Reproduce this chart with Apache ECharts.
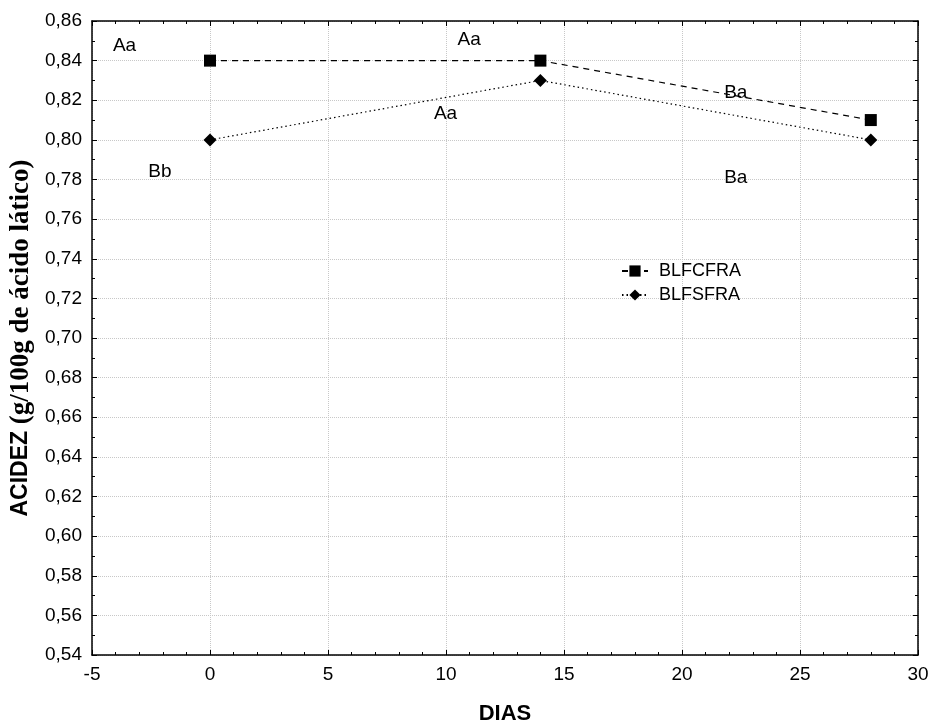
<!DOCTYPE html>
<html><head><meta charset="utf-8">
<script src="https://cdn.jsdelivr.net/npm/echarts@6/dist/echarts.min.js"></script>
<style>html,body{margin:0;padding:0;background:#fff}#c{width:930px;height:724px}</style>
</head><body><div id="c"></div>
<script>
const dias = [0, 14, 28];
const blfcfra = [0.84, 0.84, 0.81];
const blfsfra = [0.80, 0.83, 0.80];
const annotText = ['Aa', 'Bb', 'Aa', 'Aa', 'Ba', 'Ba'];
const annotX = [-3.6, -2.1, 11.0, 10.0, 22.3, 22.3];
const annotY = [0.8474, 0.7838, 0.8505, 0.8131, 0.8237, 0.7808];

const chart = echarts.init(document.getElementById('c'));
const fmtY = v => v.toFixed(2).replace('.', ',');
const font = 'Liberation Sans, Arial, sans-serif';
chart.setOption({
  animation:false,
  backgroundColor:'#fff',
  grid:{left:92, right:12, top:21, bottom:69, outerBoundsMode:'none', containLabel:false},
  legend:{
    orient:'vertical', left:616, top:257, itemGap:6, itemWidth:26, itemHeight:14,
    textStyle:{fontFamily:font, fontSize:18, color:'#000', padding:[0,0,0,6]},
    data:['BLFCFRA','BLFSFRA']
  },
  xAxis:[{
    type:'value', min:-5, max:30, interval:5,
    name:'DIAS', nameLocation:'middle', nameGap:48,
    nameTextStyle:{fontFamily:font, fontSize:22, fontWeight:'bold', color:'#000'},
    axisLine:{onZero:false, lineStyle:{color:'#000', width:1.5}},
    axisTick:{inside:true, length:5, lineStyle:{color:'#000'}},
    minorTick:{show:true, splitNumber:5, length:3, lineStyle:{color:'#000'}},
    axisLabel:{fontFamily:font, fontSize:19, color:'#000', margin:10},
    splitLine:{show:true, lineStyle:{color:'#c8c8c8', type:'dotted'}}
  },{
    type:'value', min:-5, max:30, interval:5, position:'top',
    axisLine:{onZero:false, lineStyle:{color:'#000', width:1.5}},
    axisTick:{inside:true, length:5, lineStyle:{color:'#000'}},
    minorTick:{show:true, splitNumber:5, length:3, lineStyle:{color:'#000'}},
    axisLabel:{show:false}, splitLine:{show:false}
  }],
  yAxis:[{
    type:'value', min:0.54, max:0.86, interval:0.02,
    name:'{a|ACIDEZ}{b| (g/100g de ácido lático)}',
    nameLocation:'middle', nameGap:56, nameRotate:90,
    nameTextStyle:{rich:{
      a:{fontFamily:font, fontSize:23, fontWeight:'bold', color:'#000'},
      b:{fontFamily:'Liberation Serif, Times New Roman, serif', fontSize:27, fontWeight:'bold', color:'#000'}
    }},
    axisLine:{onZero:false, lineStyle:{color:'#000', width:1.5}},
    axisTick:{inside:true, length:5, lineStyle:{color:'#000'}},
    minorTick:{show:true, splitNumber:2, length:3, lineStyle:{color:'#000'}},
    axisLabel:{fontFamily:font, fontSize:19, color:'#000', margin:10, formatter:fmtY},
    splitLine:{show:true, lineStyle:{color:'#c8c8c8', type:'dotted'}}
  },{
    type:'value', min:0.54, max:0.86, interval:0.02, position:'right',
    axisLine:{onZero:false, lineStyle:{color:'#000', width:1.5}},
    axisTick:{inside:true, length:5, lineStyle:{color:'#000'}},
    minorTick:{show:true, splitNumber:2, length:3, lineStyle:{color:'#000'}},
    axisLabel:{show:false}, splitLine:{show:false}
  }],
  series:[{
    name:'BLFCFRA', type:'line', symbol:'rect', symbolSize:12,
    data:dias.map((d,i)=>[d, blfcfra[i]]),
    itemStyle:{color:'#000'},
    lineStyle:{color:'#000', width:1.2, type:[6,5]}
  },{
    name:'BLFSFRA', type:'line', symbol:'diamond', symbolSize:13,
    data:dias.map((d,i)=>[d, blfsfra[i]]),
    itemStyle:{color:'#000'},
    lineStyle:{color:'#000', width:1.2, type:[1.5,3]}
  },{
    name:'annot', type:'scatter', symbolSize:1, silent:true,
    itemStyle:{opacity:0},
    data:annotText.map((t,i)=>({value:[annotX[i], annotY[i]], name:t})),
    label:{show:true, position:[0,0], align:'center', verticalAlign:'middle',
      formatter:p=>p.name, fontFamily:font, fontSize:19, color:'#000', opacity:1}
  }]
});
</script></body></html>
